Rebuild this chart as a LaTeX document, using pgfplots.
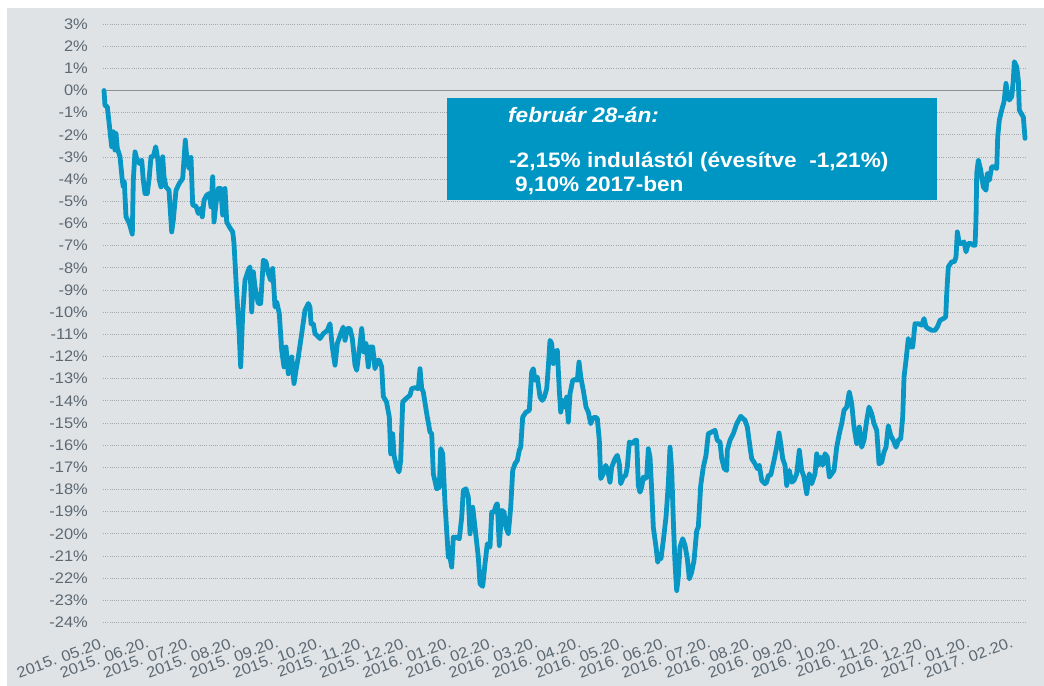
\documentclass[border=0pt]{standalone}
\usepackage{pgfplots}
\pgfplotsset{compat=1.18}
\usepackage{fontspec}
\setmainfont[FakeStretch=1.08]{Liberation Sans}
\definecolor{panel}{HTML}{DFE3E6}
\definecolor{linec}{HTML}{0897C5}
\definecolor{boxc}{HTML}{0096C3}
\definecolor{txt}{HTML}{5C6872}
\definecolor{gridc}{HTML}{A4AAAE}
\pgfplotstableread{
t v
104 0
105 -0.68
107.3 -0.73
111.7 -2.54
113.3 -1.86
115 -2.69
116 -1.94
117.3 -2.61
120 -2.99
122.3 -4.05
123.3 -4.35
124.3 -4.12
126 -5.70
129.3 -6.00
132.3 -6.48
133.3 -4.05
135 -2.77
136.7 -3.07
139.3 -3.29
141.7 -3.14
143.3 -4.05
145 -4.65
147.3 -4.65
149.3 -3.89
151 -2.99
153.3 -2.99
155.7 -2.54
157.7 -3.07
159.3 -4.05
161 -4.35
162.7 -2.99
164 -3.89
166 -4.35
169 -4.50
171.7 -6.38
173.3 -5.85
176 -4.50
179.3 -4.19
182.7 -3.97
185.3 -2.24
186.7 -2.99
189 -3.52
191 -3.02
192.7 -5.17
196 -5.22
198.3 -5.55
200.7 -5.32
202.3 -5.70
204 -4.95
206.7 -4.72
209.3 -4.65
211 -5.25
212.7 -3.89
214 -5.93
216 -5.10
218.3 -4.42
220.7 -4.42
222.7 -5.62
225 -4.42
226.7 -5.93
229.3 -6.15
232.7 -6.38
234 -6.90
236.7 -9.16
239 -10.82
240.7 -12.47
242.7 -10.07
245 -8.56
248.3 -8.11
250 -7.96
251.7 -9.99
253.3 -8.18
255 -8.86
258.3 -9.61
260.7 -9.61
263.3 -7.66
266 -7.73
268.3 -8.26
270.7 -8.56
272.7 -8.03
275 -9.77
276.7 -9.54
279.3 -10.07
281.7 -11.72
284 -12.47
286 -11.57
288.3 -12.78
291.7 -12.02
294 -13.22
296 -12.62
298.3 -12.02
301.7 -10.97
305 -9.91
308.3 -9.61
310 -9.77
311 -10.52
313.3 -10.52
315 -10.97
316.7 -11.04
320 -11.19
323.3 -10.97
327.3 -10.82
330 -10.52
332.3 -11.57
335 -12.39
337.3 -11.42
340.7 -10.97
343.3 -10.67
345 -11.27
347.3 -10.74
350 -10.74
352.3 -11.19
355 -12.39
356.7 -12.62
359.3 -11.72
361.7 -10.74
364 -11.80
366 -11.42
368.3 -12.47
370 -11.57
372.7 -11.57
375 -12.55
377.3 -12.17
379.3 -12.17
381.7 -12.47
383.3 -13.80
386.5 -14.05
389.3 -14.73
390.7 -16.39
392.7 -15.49
394 -16.46
396.7 -16.99
399 -17.21
400.7 -16.69
402.7 -14.05
406 -13.90
410 -13.75
411.7 -13.45
415 -13.41
418.3 -13.45
420 -12.55
421.7 -13.45
423.3 -13.60
426.7 -14.58
430 -15.41
431.7 -15.48
433.3 -17.29
436.7 -17.97
439.3 -17.89
440.7 -16.16
442.7 -16.39
445 -18.64
448.3 -21.05
450 -21.05
451.7 -21.50
453.3 -20.15
456 -20.15
459.3 -20.22
461.7 -19.25
463.3 -18.04
466 -17.97
468.3 -18.34
470 -20.00
472.7 -18.80
475 -19.71
478.3 -21.05
480 -22.25
482.7 -22.37
485 -21.35
487.3 -20.45
490 -20.60
491.7 -19.02
494 -19.02
496 -18.72
497.3 -18.64
499.3 -20.53
501.7 -18.94
504 -19.02
506 -19.71
508.3 -20.00
510.7 -18.80
512.7 -17.14
515 -16.84
517.3 -16.69
519.3 -16.23
520.7 -16.09
522.7 -14.73
526 -14.51
529.3 -14.43
531.7 -12.70
533.3 -12.55
535 -13.07
537.3 -12.93
540 -13.83
542.3 -13.98
544.3 -13.83
546.7 -13.45
548.3 -12.47
550 -11.27
551.7 -11.42
553.3 -12.32
555 -11.80
557.3 -11.72
559.3 -13.53
560.7 -14.51
562.7 -13.98
564.3 -14.28
566.7 -13.83
568.3 -14.96
570 -13.68
572.7 -13.07
575 -13.04
577.3 -13.07
579 -12.25
581 -13.00
583.3 -13.53
586 -14.28
588.3 -14.51
590.7 -15.03
592.7 -14.80
595 -14.73
597.3 -14.80
599.3 -15.78
600.7 -17.51
603.3 -17.29
605.7 -16.91
607.7 -17.14
610 -17.67
611.7 -16.99
615 -16.61
617.3 -16.46
619.3 -16.84
620.7 -17.74
623.3 -17.44
625.7 -17.36
627.3 -16.99
629.3 -15.86
632.7 -15.93
635 -15.78
636.7 -15.78
638.3 -17.82
640 -18.12
641.7 -17.89
643.3 -17.44
645 -17.51
646.7 -17.44
648.3 -16.16
650 -16.54
651.7 -18.04
653.3 -19.70
656 -20.60
657.7 -21.28
659.3 -21.05
661 -21.12
663.3 -20.30
666 -19.25
668.3 -17.74
670 -16.09
671.7 -17.14
673.3 -19.40
675 -21.35
676.7 -22.56
678.3 -21.95
680 -20.60
682.7 -20.22
685 -20.52
687.3 -21.12
689.3 -22.03
691.7 -21.73
694 -21.20
696.7 -19.85
698.3 -19.70
700.7 -17.82
703.3 -16.99
706 -16.46
708.3 -15.48
711.7 -15.41
715 -15.33
717.3 -15.78
720 -15.86
721.7 -16.61
724.3 -17.06
726.7 -17.14
727.3 -16.23
730 -15.78
733.3 -15.48
736.7 -15.03
740.7 -14.70
745 -14.88
747.3 -15.18
750 -16.09
751.7 -16.61
755 -16.84
757.3 -17.06
759.3 -16.91
761.7 -17.59
765 -17.74
766.7 -17.67
768.3 -17.36
770.7 -17.36
774 -16.69
776.7 -16.09
779 -15.45
780.7 -15.93
782.7 -16.61
785 -16.91
786.7 -17.82
789.3 -17.14
791.7 -17.67
794 -17.59
796.7 -17.29
799.3 -16.23
801.7 -17.14
804 -17.44
806.7 -18.19
809.3 -17.29
811.7 -17.74
815 -17.29
816.7 -16.39
818.3 -16.91
820.7 -16.54
822.7 -16.91
825 -16.39
827.3 -16.54
829.3 -17.44
831.7 -17.29
834 -17.14
836.7 -16.09
839.3 -15.48
841.7 -15.03
844 -14.43
846.7 -14.28
849.3 -13.60
851.7 -14.13
854 -15.18
856.7 -15.93
859.3 -15.18
861.7 -16.09
864 -15.78
866.7 -14.88
869 -14.28
871.7 -14.58
874 -15.03
876.7 -15.33
879 -16.84
881.7 -16.77
884 -16.31
886 -16.09
888.3 -15.12
890.7 -15.56
893.3 -15.78
896 -16.09
898.3 -15.78
900.7 -15.71
902.7 -14.73
904 -12.93
906 -12.17
908.3 -11.19
910.7 -11.57
912.7 -11.57
915 -10.52
918.3 -10.52
921.7 -10.59
924 -10.29
926 -10.67
928.3 -10.74
931.7 -10.82
935 -10.82
937.3 -10.67
940 -10.37
943.3 -10.29
945.7 -10.22
946.7 -9.16
948.3 -7.96
951.7 -7.73
954.3 -7.73
956 -7.51
957.3 -6.38
959.3 -6.90
961.7 -6.90
964 -6.83
966 -7.28
968.3 -6.90
970.7 -6.90
973.3 -6.98
975 -6.98
976 -5.85
976.7 -3.74
978.3 -3.14
980.7 -3.59
983.3 -4.35
986 -4.50
987.3 -3.74
989.3 -4.05
991.7 -3.44
994 -3.44
996.7 -3.52
997.7 -2.09
999.3 -1.34
1001.7 -0.88
1004 -0.51
1006 0.32
1007.3 -0.13
1009.3 -0.43
1011.7 -0.28
1013.3 0.47
1014.3 1.30
1016.7 1.07
1018.3 0.47
1019.3 -0.88
1021 -1.03
1023.3 -1.19
1025 -2.16
}\perf
\begin{document}
\begin{tikzpicture}[x=1bp,y=1bp]
\path[use as bounding box] (0,0) rectangle (1044,686);
\fill[white] (0,0) rectangle (1044,686);
\fill[panel] (7,0) rectangle (1044,678);
\begin{axis}[
  at={(103bp,63.5bp)}, anchor=south west,
  scale only axis, width=923bp, height=598.5bp,
  xmin=103, xmax=1026, ymin=-24, ymax=3,
  axis line style={draw=none},
  major tick length=0pt,
  ytick={-24,-23,...,3},
  yticklabels={-24\%,-23\%,-22\%,-21\%,-20\%,-19\%,-18\%,-17\%,-16\%,-15\%,-14\%,-13\%,-12\%,-11\%,-10\%,-9\%,-8\%,-7\%,-6\%,-5\%,-4\%,-3\%,-2\%,-1\%,0\%,1\%,2\%,3\%},
  xtick={105,148.2,191.4,234.6,277.8,321,364.2,407.4,450.6,493.8,537,580.2,623.4,666.6,709.8,753,796.2,839.4,882.6,925.8,969,1012.2},
  xticklabels={2015. 05.20.,2015. 06.20.,2015. 07.20.,2015. 08.20.,2015. 09.20.,2015. 10.20.,2015. 11.20.,2015. 12.20.,2016. 01.20.,2016. 02.20.,2016. 03.20.,2016. 04.20.,2016. 05.20.,2016. 06.20.,2016. 07.20.,2016. 08.20.,2016. 09.20.,2016. 10.20.,2016. 11.20.,2016. 12.20.,2017. 01.20.,2017. 02.20.},
  ymajorgrids,
  major grid style={gridc, line width=0.9bp, dash pattern=on 0.9bp off 1.3bp},
  tick label style={font=\fontsize{15.3}{18}\selectfont, text=txt, inner sep=0pt},
  xticklabel style={rotate=20, anchor=east},
  xticklabel shift=19bp,
  yticklabel shift=15bp,
  clip=false,
]
\draw[color=gridc!85!black, line width=1bp] (axis cs:103,0) -- (axis cs:1026,0);
\addplot[linec, line width=4.8bp, line join=round, line cap=round] table[x=t, y=v] {\perf};
\end{axis}
\fill[boxc] (447,588) rectangle (937,486);
\node[anchor=base west, text=white, inner sep=0pt, font=\fontsize{21}{24}\selectfont\bfseries\itshape] at (508,563) {február 28-án:};
\node[anchor=base west, text=white, inner sep=0pt, font=\fontsize{21}{24}\selectfont\bfseries] at (509,518) {-2,15\% indulástól (évesítve\ \ -1,21\%)};
\node[anchor=base west, text=white, inner sep=0pt, font=\fontsize{21}{24}\selectfont\bfseries] at (515,494) {9,10\% 2017-ben};
\end{tikzpicture}
\end{document}
